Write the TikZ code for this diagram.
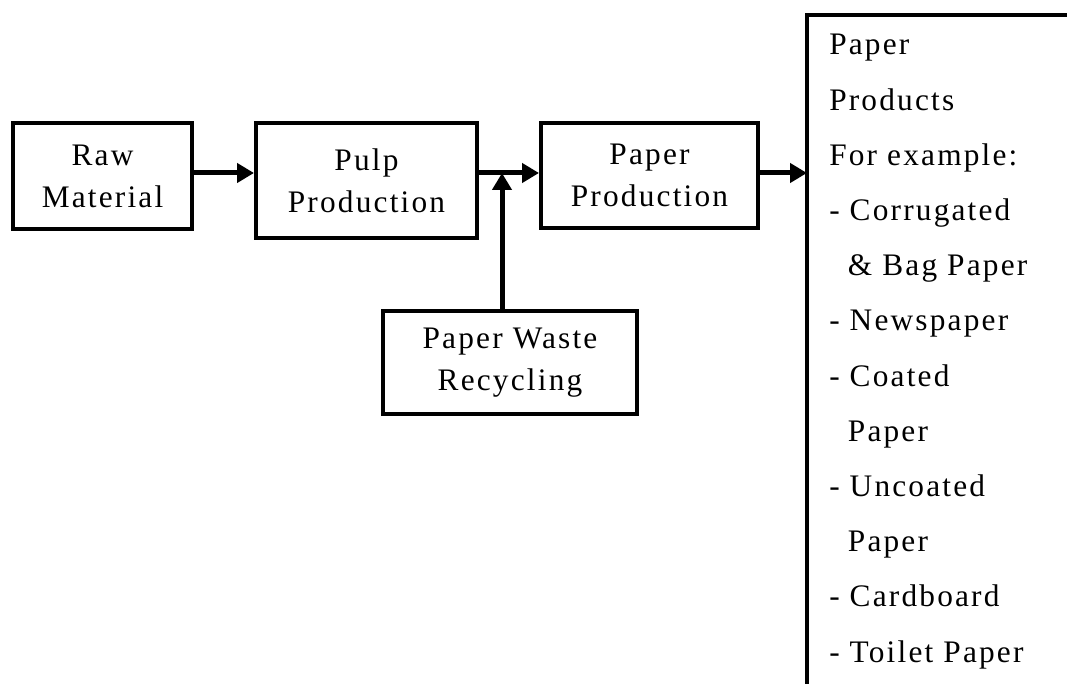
\documentclass[tikz,border=0pt]{standalone}
\usepackage{fontspec}
\setmainfont{Liberation Serif}[LetterSpace=7]
\usetikzlibrary{arrows.meta}
\begin{document}
\begin{tikzpicture}[x=0.75pt,y=-0.75pt,
  every node/.style={font=\fontsize{23.5}{31.5}\selectfont},
  stage/.style={draw,line width=3pt,align=center,inner sep=0pt},
  flow/.style={line width=3.75pt,-{Triangle[length=12.75pt,width=14.25pt]}},
  frame/.style={line width=3.4pt}]
\useasboundingbox (0,0) rectangle (1067,684);

% process stages
\node[stage, minimum width=134.25pt, minimum height=79.5pt] (raw) at (102.5,176) {Raw\\Material};
\node[stage, minimum width=165.75pt, minimum height=86.25pt] (pulp) at (366.5,180.5) {Pulp\\Production};
\node[stage, minimum width=162.75pt, minimum height=78.75pt] (paper) at (649.5,175.5) {Paper\\Production};
\node[stage, minimum width=190.5pt, minimum height=77.25pt] (waste) at (510,362.5) {Paper Waste\\Recycling};

% products column, open to the right and bottom
\coordinate (corner) at (807,15);
\draw[frame] (1067,15) -- (corner) -- (807,684);
\node[anchor=base west,inner sep=0pt] (products) at (829,55)
  {\vtop{\baselineskip=41.4pt
    \hbox{Paper}
    \hbox{Products}
    \hbox{For example:}
    \hbox{- Corrugated}
    \hbox{\hspace*{14pt}\& Bag Paper}
    \hbox{- Newspaper}
    \hbox{- Coated}
    \hbox{\hspace*{14pt}Paper}
    \hbox{- Uncoated}
    \hbox{\hspace*{14pt}Paper}
    \hbox{- Cardboard}
    \hbox{- Toilet Paper}}};

% main flow line and connectors
\coordinate (lvl) at (0,173);
\coordinate (join) at (502,173);
\draw[flow] (raw.east |- lvl) -- (pulp.west |- lvl);
\draw[flow] (pulp.east |- lvl) -- (paper.west |- lvl);
\draw[flow] (paper.east |- lvl) -- (corner |- lvl);
\draw[flow] (waste.north -| join) -- (join);
\end{tikzpicture}
\end{document}
